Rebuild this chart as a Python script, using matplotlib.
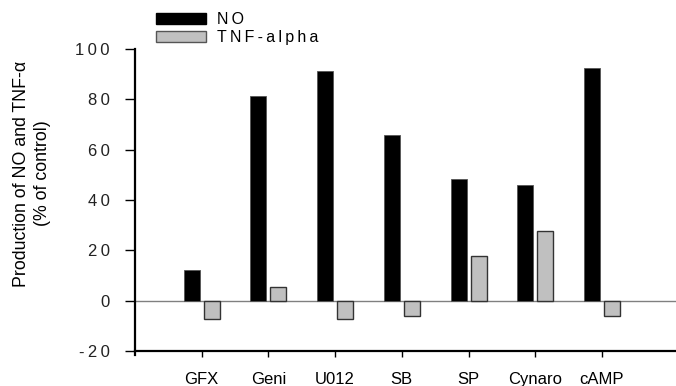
import matplotlib
matplotlib.use("Agg")
import matplotlib.pyplot as plt
import numpy as np
from matplotlib.patches import Patch

plt.rcParams['font.family'] = ['Liberation Sans', 'DejaVu Sans']

categories = ["GFX", "Geni", "U012", "SB", "SP", "Cynaro", "cAMP"]
no_values = [12.2, 81.2, 91.2, 65.7, 48.4, 46.0, 92.4]
tnf_values = [-7.4, 5.4, -7.4, -6.0, 17.8, 27.7, -6.0]
y_ticks = [-20, 0, 20, 40, 60, 80, 100]
y_tick_labels = ["-20", "0", "20", "40", "60", "80", "100"]
legend_labels = ["NO", "TNF-alpha"]


def spaced(s):
    # widen the letter spacing with thin spaces
    return "\u2009".join(s)


fig = plt.figure(figsize=(6.76, 3.86), dpi=100)
ax = fig.add_axes([0.1997, 0.0907, 0.8003, 0.782])

x = np.arange(1, len(categories) + 1)
w = 0.24
ax.bar(x - 0.15, no_values, width=w, color="black", edgecolor="#555555", linewidth=0.6, zorder=3)
ax.bar(x + 0.15, tnf_values, width=w, color="#c0c0c0", edgecolor="#333333", linewidth=1.0, zorder=3)

ax.axhline(0, color="#808080", linewidth=1.0, zorder=2)

ax.set_xlim(0, 8.11)
ax.set_ylim(-20, 100)
ax.set_yticks(y_ticks)
ax.set_yticklabels([spaced(t) for t in y_tick_labels])
ax.set_xticks(x)
ax.set_xticklabels(categories)

for s in ["top", "right"]:
    ax.spines[s].set_visible(False)
ax.spines["left"].set_linewidth(1.6)
ax.spines["bottom"].set_linewidth(1.6)
ax.spines["left"].set_bounds(-21.5, 100)

ax.tick_params(axis="y", direction="out", length=7, width=1.0, pad=11, labelsize=12, colors="black")
ax.tick_params(axis="x", direction="out", length=4, width=1.0, pad=11, labelsize=12)
for lbl in ax.get_yticklabels():
    lbl.set_color("#222222")

fig.text(32 / 676, 1 - 173.5 / 386, "Production of NO and TNF-\u03b1\n(% of control)",
         rotation=90, ha="center", va="center", fontsize=12.8, linespacing=1.3)

handles = [Patch(facecolor="black", edgecolor="black"),
           Patch(facecolor="#c0c0c0", edgecolor="#555555")]
fig.legend(handles, [spaced(t) for t in legend_labels], loc="upper left",
           bbox_to_anchor=(156 / 676, 1 - 12 / 386), frameon=False, fontsize=11.5,
           borderpad=0, borderaxespad=0,
           handlelength=3.1, handleheight=0.63, handletextpad=0.75, labelspacing=0.2)

fig.savefig("out.png", dpi=100)
